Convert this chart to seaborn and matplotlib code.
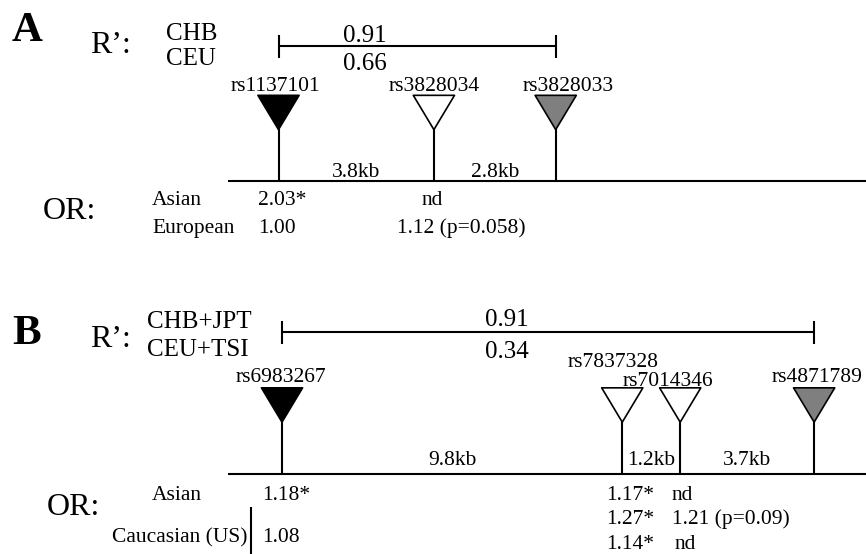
import matplotlib
matplotlib.use('Agg')
import matplotlib.pyplot as plt
from matplotlib.path import Path
import pandas as pd
import seaborn as sns

# ---------------- data ----------------
# Panel A
snps_a = ['rs1137101', 'rs3828034', 'rs3828033']
pos_a_kb = [0.0, 3.7, 6.6]
shade_a = ['filled', 'open', 'shaded']
gaps_a = ['3.8kb', '2.8kb']
rpop_a = ['CHB', 'CEU']
rval_a = ['0.91', '0.66']
or_groups_a = ['Asian', 'European']
or_rs1137101 = ['2.03*', '1.00']
or_rs3828034 = ['nd', '1.12 (p=0.058)']

# Panel B
snps_b = ['rs6983267', 'rs7837328', 'rs7014346', 'rs4871789']
pos_b_kb = [0.0, 9.4, 11.0, 14.7]
shade_b = ['filled', 'open', 'open', 'shaded']
gaps_b = ['9.8kb', '1.2kb', '3.7kb']
rpop_b = ['CHB+JPT', 'CEU+TSI']
rval_b = ['0.91', '0.34']
or_groups_b = ['Asian', 'Caucasian (US)']
or_rs6983267 = ['1.18*', '1.08']
or_rs7837328 = ['1.17*', '1.27*', '1.14*']
or_rs7014346 = ['nd', '1.21 (p=0.09)', 'nd']

# ---------------- style ----------------
sns.set_theme(style='white')
plt.rcParams['font.family'] = ['Liberation Serif', 'DejaVu Serif']
W, H = 866, 554
FS = 15.5      # small text
FS_POP = 18
FS_BIG = 23
FS_PANEL = 31
LW = 1.5
palette = {'filled': 'black', 'open': 'white', 'shaded': '#7f7f7f'}
tri_marker = Path([(-1.2, 1.0), (1.2, 1.0), (0.0, -1.0), (-1.2, 1.0)],
                  closed=True)

fig = plt.figure(figsize=(W / 100, H / 100), dpi=100)
bg = fig.add_axes([0, 0, 1, 1])
bg.set_xlim(0, W)
bg.set_ylim(H, 0)
bg.axis('off')


def panel_axes():
    ax = fig.add_axes([0, 0, 1, 1])
    ax.patch.set_alpha(0)
    return ax


def finish_axes(ax, x0_px, px_per_kb):
    ax.set_xlim(-x0_px / px_per_kb, (W - x0_px) / px_per_kb)
    ax.set_ylim(H, 0)
    ax.axis('off')


def draw_locus(ax, snps, pos, shade, gaps, tri_y, apex_y, base_y, label_y,
               label_dx, gap_y, bracket_y, tick_half):
    df = pd.DataFrame({'snp': snps, 'pos': pos, 'shade': shade})
    df['y'] = tri_y
    # stems
    ax.vlines(df['pos'], apex_y, base_y, color='black', lw=LW, zorder=2)
    # triangles
    sns.scatterplot(data=df, x='pos', y='y', hue='shade', palette=palette,
                    marker=tri_marker, s=880, edgecolor='black',
                    linewidth=1.2, legend=False, ax=ax, zorder=3)
    # snp labels
    for name, p, dy, dx in zip(snps, pos, label_y, label_dx):
        ax.annotate(name, xy=(p, dy), xytext=(dx * 0.72, 0),
                    textcoords='offset points', ha='center', va='baseline',
                    fontsize=FS, color='black')
    # gap labels at midpoints
    for g, p1, p2 in zip(gaps, pos[:-1], pos[1:]):
        ax.text((p1 + p2) / 2, gap_y, g, ha='center', va='baseline',
                fontsize=FS, color='black')
    # R' bracket
    ax.hlines(bracket_y, pos[0], pos[-1], color='black', lw=LW)
    ax.vlines([pos[0], pos[-1]], bracket_y - tick_half, bracket_y + tick_half,
              color='black', lw=LW)


def txt(x, y, s, size=FS, ha='left', weight='normal'):
    bg.text(x, y, s, ha=ha, va='baseline', fontsize=size,
            fontweight=weight, color='black')


# ---------------- Panel A ----------------
axA = panel_axes()
draw_locus(axA, snps_a, pos_a_kb, shade_a, gaps_a, tri_y=112.5, apex_y=129,
           base_y=181, label_y=[91, 91, 91], label_dx=[-3, 0, 12],
           gap_y=177, bracket_y=46, tick_half=11.5)
finish_axes(axA, 278.5, 42.0)
bg.hlines(181, 228, W, color='black', lw=LW)

txt(12, 41, 'A', size=FS_PANEL, weight='bold')
txt(90, 53, 'R\u2019:', size=FS_BIG)
txt(166, 40, rpop_a[0], size=FS_POP)
txt(166, 65, rpop_a[1], size=FS_POP)
txt(365, 42, rval_a[0], size=FS_POP, ha='center')
txt(365, 70, rval_a[1], size=FS_POP, ha='center')

txt(43, 219, 'OR:', size=FS_BIG)
txt(152, 205, or_groups_a[0])
txt(152, 233, or_groups_a[1])
txt(258, 205, or_rs1137101[0])
txt(258, 233, or_rs1137101[1])
txt(432, 205, or_rs3828034[0], ha='center')
txt(397, 233, or_rs3828034[1])

# ---------------- Panel B ----------------
axB = panel_axes()
draw_locus(axB, snps_b, pos_b_kb, shade_b, gaps_b, tri_y=405, apex_y=422,
           base_y=474, label_y=[382, 367, 386, 382],
           label_dx=[-1, -9, -12, 3],
           gap_y=465, bracket_y=332, tick_half=11.5)
finish_axes(axB, 282.0, 36.2)
bg.hlines(474, 228, W, color='black', lw=LW)

txt(12, 344, 'B', size=FS_PANEL, weight='bold')
txt(90, 347, 'R\u2019:', size=FS_BIG)
txt(147, 328, rpop_b[0], size=FS_POP)
txt(147, 356, rpop_b[1], size=FS_POP)
txt(507, 326, rval_b[0], size=FS_POP, ha='center')
txt(507, 358, rval_b[1], size=FS_POP, ha='center')

txt(47, 515, 'OR:', size=FS_BIG)
txt(177, 500, or_groups_b[0], ha='center')
txt(247, 542, or_groups_b[1], ha='right')
bg.vlines(251, 507, H, color='black', lw=LW)
txt(262, 500, or_rs6983267[0])
txt(262, 542, or_rs6983267[1])
for val, yb in zip(or_rs7837328, [500, 524, 549]):
    txt(606, yb, val)
for val, yb, xl in zip(or_rs7014346, [500, 524, 549], [672, 672, 675]):
    txt(xl, yb, val)

fig.savefig('out.png', dpi=100, facecolor='white')
